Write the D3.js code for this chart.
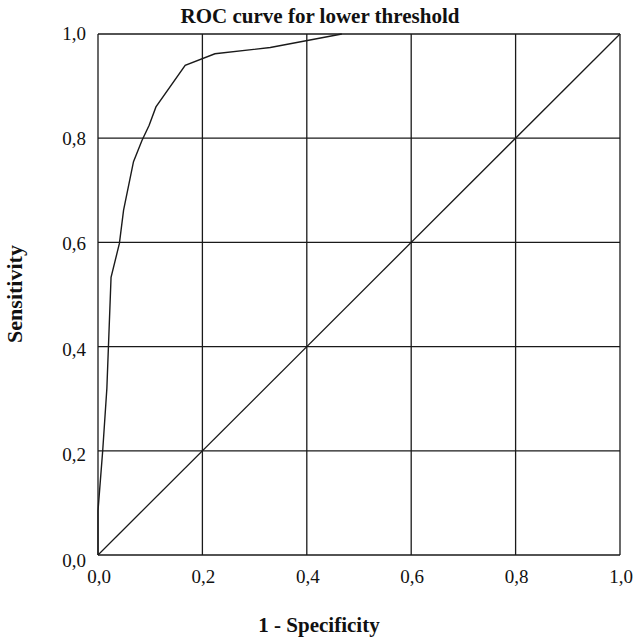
<!DOCTYPE html>
<html>
<head>
<meta charset="utf-8">
<script src="https://cdn.jsdelivr.net/npm/d3@7"></script>
<style>
  body { margin: 0; background: #fff; }
  text { font-family: "Liberation Serif", "Times New Roman", serif; fill: #111; }
</style>
</head>
<body>
<div id="chart"></div>
<script>
// ROC curve points
const fpr = [0, 0, 0.009, 0.017, 0.025, 0.041, 0.049, 0.068, 0.084, 0.098, 0.111, 0.167, 0.224, 0.33, 0.467];
const tpr = [0, 0.085, 0.2, 0.32, 0.533, 0.598, 0.662, 0.755, 0.795, 0.825, 0.86, 0.94, 0.962, 0.974, 1.0];
const ticks = [0, 0.2, 0.4, 0.6, 0.8, 1.0];
const fmt = d => d.toFixed(1).replace(".", ",");

const width = 635, height = 639;
const plotLeft = 98, plotRight = 620, plotTop = 34, plotBottom = 555;

const svg = d3.select("#chart").append("svg")
  .attr("width", width)
  .attr("height", height);

const x = d3.scaleLinear().domain([0, 1]).range([plotLeft, plotRight]);
const y = d3.scaleLinear().domain([0, 1]).range([plotBottom, plotTop]);
// the y labels drift a little below their lines towards the bottom
const yLabel = d3.scaleLinear().domain([0, 1]).range([plotBottom + 5, plotTop - 1]);

// grid
const grid = svg.append("g").attr("stroke", "#1a1a1a").attr("stroke-width", 1.3);
grid.selectAll(".gx").data(ticks).enter().append("line")
  .attr("x1", d => x(d)).attr("x2", d => x(d))
  .attr("y1", y(0)).attr("y2", y(1));
grid.selectAll(".gy").data(ticks).enter().append("line")
  .attr("y1", d => y(d)).attr("y2", d => y(d))
  .attr("x1", x(0)).attr("x2", x(1));

// tick labels
svg.selectAll(".ty").data(ticks).enter().append("text")
  .attr("x", plotLeft - 12)
  .attr("y", d => yLabel(d))
  .attr("dy", "0.35em")
  .attr("text-anchor", "end")
  .style("font-size", "19px")
  .text(fmt);

svg.selectAll(".tx").data(ticks).enter().append("text")
  .attr("x", d => x(d) + 1)
  .attr("y", plotBottom + 28)
  .attr("text-anchor", "middle")
  .style("font-size", "19px")
  .text(fmt);

// diagonal
svg.append("line")
  .attr("x1", x(0)).attr("y1", y(0))
  .attr("x2", x(1)).attr("y2", y(1))
  .attr("stroke", "#1a1a1a").attr("stroke-width", 1.3);

// ROC curve
const pts = fpr.map((d, i) => [d, tpr[i]]);
svg.append("path")
  .datum(pts)
  .attr("fill", "none")
  .attr("stroke", "#1a1a1a")
  .attr("stroke-width", 1.4)
  .attr("d", d3.line().x(d => x(d[0])).y(d => y(d[1])));

// titles
svg.append("text")
  .attr("x", 320).attr("y", 23)
  .attr("text-anchor", "middle")
  .style("font-size", "21px").style("font-weight", "bold")
  .text("ROC curve for lower threshold");

svg.append("text")
  .attr("x", 319).attr("y", 632)
  .attr("text-anchor", "middle")
  .style("font-size", "21px").style("font-weight", "bold")
  .text("1 - Specificity");

svg.append("text")
  .attr("transform", "translate(22,294) rotate(-90)")
  .attr("text-anchor", "middle")
  .style("font-size", "22px").style("font-weight", "bold")
  .text("Sensitivity");
</script>
</body>
</html>
